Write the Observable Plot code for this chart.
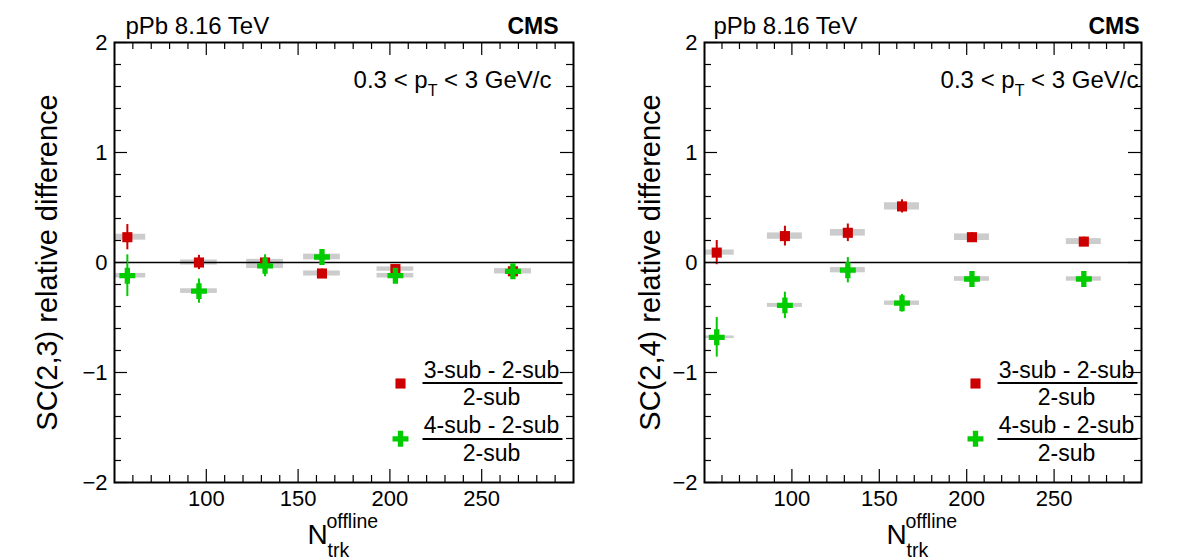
<!DOCTYPE html>
<html>
<head>
<meta charset="utf-8">
<script src="https://cdn.jsdelivr.net/npm/d3@7"></script>
<script src="https://cdn.jsdelivr.net/npm/@observablehq/plot@0.6"></script>
<style>
  html, body { margin: 0; padding: 0; background: #fff; }
  #chart { position: relative; width: 1182px; height: 559px; overflow: hidden; background: #fff; }
  #chart svg { position: absolute; top: 0; }
</style>
</head>
<body>
<div id="chart"></div>
<script>
// Multiplicity bins (mean N_trk^offline)
const nTrk = [57, 96, 132, 163, 203, 267];

// SC(2,3): (3-sub - 2-sub)/2-sub
const sc23Sub3 = [0.23, 0.0, 0.0, -0.10, -0.06, -0.08];
const sc23Sub3Stat = [0.115, 0.065, 0.05, 0.04, 0.04, 0.035];
const sc23Sub3Sys = [0.027, 0.023, 0.029, 0.023, 0.02, 0.023];
// SC(2,3): (4-sub - 2-sub)/2-sub
const sc23Sub4 = [-0.12, -0.26, -0.03, 0.05, -0.12, -0.08];
const sc23Sub4Stat = [0.19, 0.11, 0.10, 0.06, 0.06, 0.05];
const sc23Sub4Sys = [0.021, 0.021, 0.025, 0.026, 0.021, 0.022];

// SC(2,4): (3-sub - 2-sub)/2-sub
const sc24Sub3 = [0.09, 0.24, 0.27, 0.51, 0.23, 0.19];
const sc24Sub3Stat = [0.11, 0.09, 0.08, 0.06, 0.04, 0.04];
const sc24Sub3Sys = [0.024, 0.029, 0.03, 0.033, 0.03, 0.027];
// SC(2,4): (4-sub - 2-sub)/2-sub
const sc24Sub4 = [-0.68, -0.39, -0.07, -0.37, -0.15, -0.15];
const sc24Sub4Stat = [0.18, 0.12, 0.115, 0.08, 0.06, 0.06];
const sc24Sub4Sys = [0.012, 0.018, 0.024, 0.02, 0.021, 0.02];

// Axis ticks and labels
const xMajorTicks = [100, 150, 200, 250];
const xMinorTicks = [60, 70, 80, 90, 110, 120, 130, 140, 160, 170, 180, 190, 210, 220, 230, 240, 260, 270, 280, 290];
const yMajorTicks = [-2, -1, 0, 1, 2];
const yMinorTicks = [-1.8, -1.6, -1.4, -1.2, -0.8, -0.6, -0.4, -0.2, 0.2, 0.4, 0.6, 0.8, 1.2, 1.4, 1.6, 1.8];

const systemText = "pPb 8.16 TeV";
const expText = "CMS";
const ptText = "0.3 < pT < 3 GeV/c";
const legendNum3 = "3-sub - 2-sub";
const legendNum4 = "4-sub - 2-sub";
const legendDen = "2-sub";

const RED = "#cc0000";
const GREEN = "#00cc00";
const GRAY = "#cccccc";
const FONT = "'Liberation Sans', Arial, Helvetica, sans-serif";

const H = 559, MT = 42, MB = 77, ML = 114;
const FH = H - MT - MB; // frame height

function rows(vals, stat, sys) {
  return nTrk.map((x, i) => ({x, v: vals[i], stat: stat[i], sys: sys[i]}));
}

function note(text, anchor, dx, dy, opts = {}) {
  return Plot.text([text], {frameAnchor: anchor, dx, dy, text: d => d, lineAnchor: "bottom", fill: "black", ...opts});
}

function panel(cfg) {
  const W = cfg.width;
  const MR = cfg.marginRight;
  const FW = W - ML - MR;
  const s3 = rows(...cfg.sub3);
  const s4 = rows(...cfg.sub4);
  const L = cfg.legendDx; // legend symbol offset from frame right
  const majX = 13, minX = 7, majY = 13, minY = 7;
  const fmt = d => (d < 0 ? "\u2212" + Math.abs(d) : String(d));

  const svg = Plot.plot({
    width: W,
    height: H,
    marginTop: MT,
    marginBottom: MB,
    marginLeft: ML,
    marginRight: MR,
    x: {domain: [50, 300], axis: null},
    y: {domain: [-2, 2], axis: null},
    style: {fontFamily: FONT, background: "white", color: "black", overflow: "visible"},
    marks: [
      // systematic boxes
      Plot.rect(s3, {x1: d => d.x - 10, x2: d => d.x + 10, y1: d => d.v - d.sys, y2: d => d.v + d.sys, fill: GRAY, clip: true}),
      Plot.rect(s4, {x1: d => d.x - 10, x2: d => d.x + 10, y1: d => d.v - d.sys, y2: d => d.v + d.sys, fill: GRAY, clip: true}),
      Plot.ruleY([0], {stroke: "black", strokeWidth: 1.6}),
      // statistical error bars and markers
      Plot.ruleX(s3, {x: "x", y1: d => d.v - d.stat, y2: d => d.v + d.stat, stroke: RED, strokeWidth: 2}),
      Plot.dot(s3, {x: "x", y: "v", symbol: "square", r: 5.7, fill: RED, stroke: "none"}),
      Plot.ruleX(s4, {x: "x", y1: d => d.v - d.stat, y2: d => d.v + d.stat, stroke: GREEN, strokeWidth: 2}),
      Plot.dot(s4, {x: "x", y: "v", symbol: "cross", r: 6.7, fill: GREEN, stroke: "none"}),
      // inward ticks on all four sides
      Plot.tickX(xMajorTicks, {x: d => d, insetTop: FH - majX, stroke: "black", strokeWidth: 1.2}),
      Plot.tickX(xMajorTicks, {x: d => d, insetBottom: FH - majX, stroke: "black", strokeWidth: 1.2}),
      Plot.tickX(xMinorTicks, {x: d => d, insetTop: FH - minX, stroke: "black", strokeWidth: 1.2}),
      Plot.tickX(xMinorTicks, {x: d => d, insetBottom: FH - minX, stroke: "black", strokeWidth: 1.2}),
      Plot.tickY(yMajorTicks, {y: d => d, insetRight: FW - majY, stroke: "black", strokeWidth: 1.2}),
      Plot.tickY(yMajorTicks, {y: d => d, insetLeft: FW - majY, stroke: "black", strokeWidth: 1.2}),
      Plot.tickY(yMinorTicks, {y: d => d, insetRight: FW - minY, stroke: "black", strokeWidth: 1.2}),
      Plot.tickY(yMinorTicks, {y: d => d, insetLeft: FW - minY, stroke: "black", strokeWidth: 1.2}),
      Plot.frame({stroke: "black", strokeWidth: 2}),
      // tick labels
      Plot.axisX({ticks: xMajorTicks, tickSize: 0, tickPadding: 8, fontSize: 22, label: null, anchor: "bottom"}),
      Plot.axisY({ticks: yMajorTicks, tickSize: 0, tickPadding: 7, fontSize: 22, label: null, anchor: "left", tickFormat: fmt}),
      // axis titles
      note("N", "bottom", -36.5, 61, {fontSize: 28, textAnchor: "start"}),
      note("offline", "bottom", -17.5, 45, {fontSize: 19.5, textAnchor: "start"}),
      note("trk", "bottom", -16.5, 74, {fontSize: 19.5, textAnchor: "start"}),
      Plot.text([cfg.yLabel], {frameAnchor: "left", dx: cfg.yLabelDx, text: d => d, rotate: -90,
        textAnchor: "middle", lineAnchor: "middle", fontSize: 29, fill: "black"}),
      // header
      note(systemText, "top-left", cfg.titleDx, -9, {fontSize: 24, textAnchor: "start"}),
      note(expText, "top-right", cfg.cmsDx, -9, {fontSize: 23, fontWeight: "bold", textAnchor: "end"}),
      note(ptText, "top-right", cfg.ptDx, 45, {fontSize: 24, textAnchor: "end"}),
      // legend
      Plot.dot([null], {frameAnchor: "top-right", dx: L, dy: 341, symbol: "square", r: 5.7, fill: RED, stroke: "none"}),
      note(legendNum3, "top-right", L + 91, 335.7, {fontSize: 23, textAnchor: "middle"}),
      Plot.frame({insetLeft: FW + L + 22, insetRight: -(L + 162), insetTop: 339.5, insetBottom: FH - 341.5, fill: "black", stroke: "none"}),
      note(legendDen, "top-right", L + 91, 362.3, {fontSize: 23, textAnchor: "middle"}),
      Plot.dot([null], {frameAnchor: "top-right", dx: L, dy: 396.3, symbol: "cross", r: 6.7, fill: GREEN, stroke: "none"}),
      note(legendNum4, "top-right", L + 91, 390.7, {fontSize: 23, textAnchor: "middle"}),
      Plot.frame({insetLeft: FW + L + 22, insetRight: -(L + 162), insetTop: 395.5, insetBottom: FH - 397.5, fill: "black", stroke: "none"}),
      note(legendDen, "top-right", L + 91, 418, {fontSize: 23, textAnchor: "middle"})
    ]
  });

  // pT with a subscript T
  d3.select(svg).selectAll("text").filter(function () { return this.textContent === ptText; })
    .each(function () {
      const t = d3.select(this);
      t.text(null);
      t.append("tspan").text("0.3 < p");
      t.append("tspan").attr("font-size", 16).attr("dy", 8).text("T");
      t.append("tspan").attr("dy", -8).text(" < 3 GeV/c");
    });

  svg.style.left = cfg.left + "px";
  return svg;
}

const chart = document.getElementById("chart");
chart.appendChild(panel({
  left: 0, width: 590, marginRight: 17,
  yLabel: "SC(2,3) relative difference", yLabelDx: -67,
  sub3: [sc23Sub3, sc23Sub3Stat, sc23Sub3Sys],
  sub4: [sc23Sub4, sc23Sub4Stat, sc23Sub4Sys],
  titleDx: 11, cmsDx: -15, ptDx: -22, legendDx: -173
}));
chart.appendChild(panel({
  left: 590, width: 592, marginRight: 41,
  yLabel: "SC(2,4) relative difference", yLabelDx: -54,
  sub3: [sc24Sub3, sc24Sub3Stat, sc24Sub3Sys],
  sub4: [sc24Sub4, sc24Sub4Stat, sc24Sub4Sys],
  titleDx: 9, cmsDx: -2, ptDx: -3, legendDx: -166
}));
</script>
</body>
</html>
